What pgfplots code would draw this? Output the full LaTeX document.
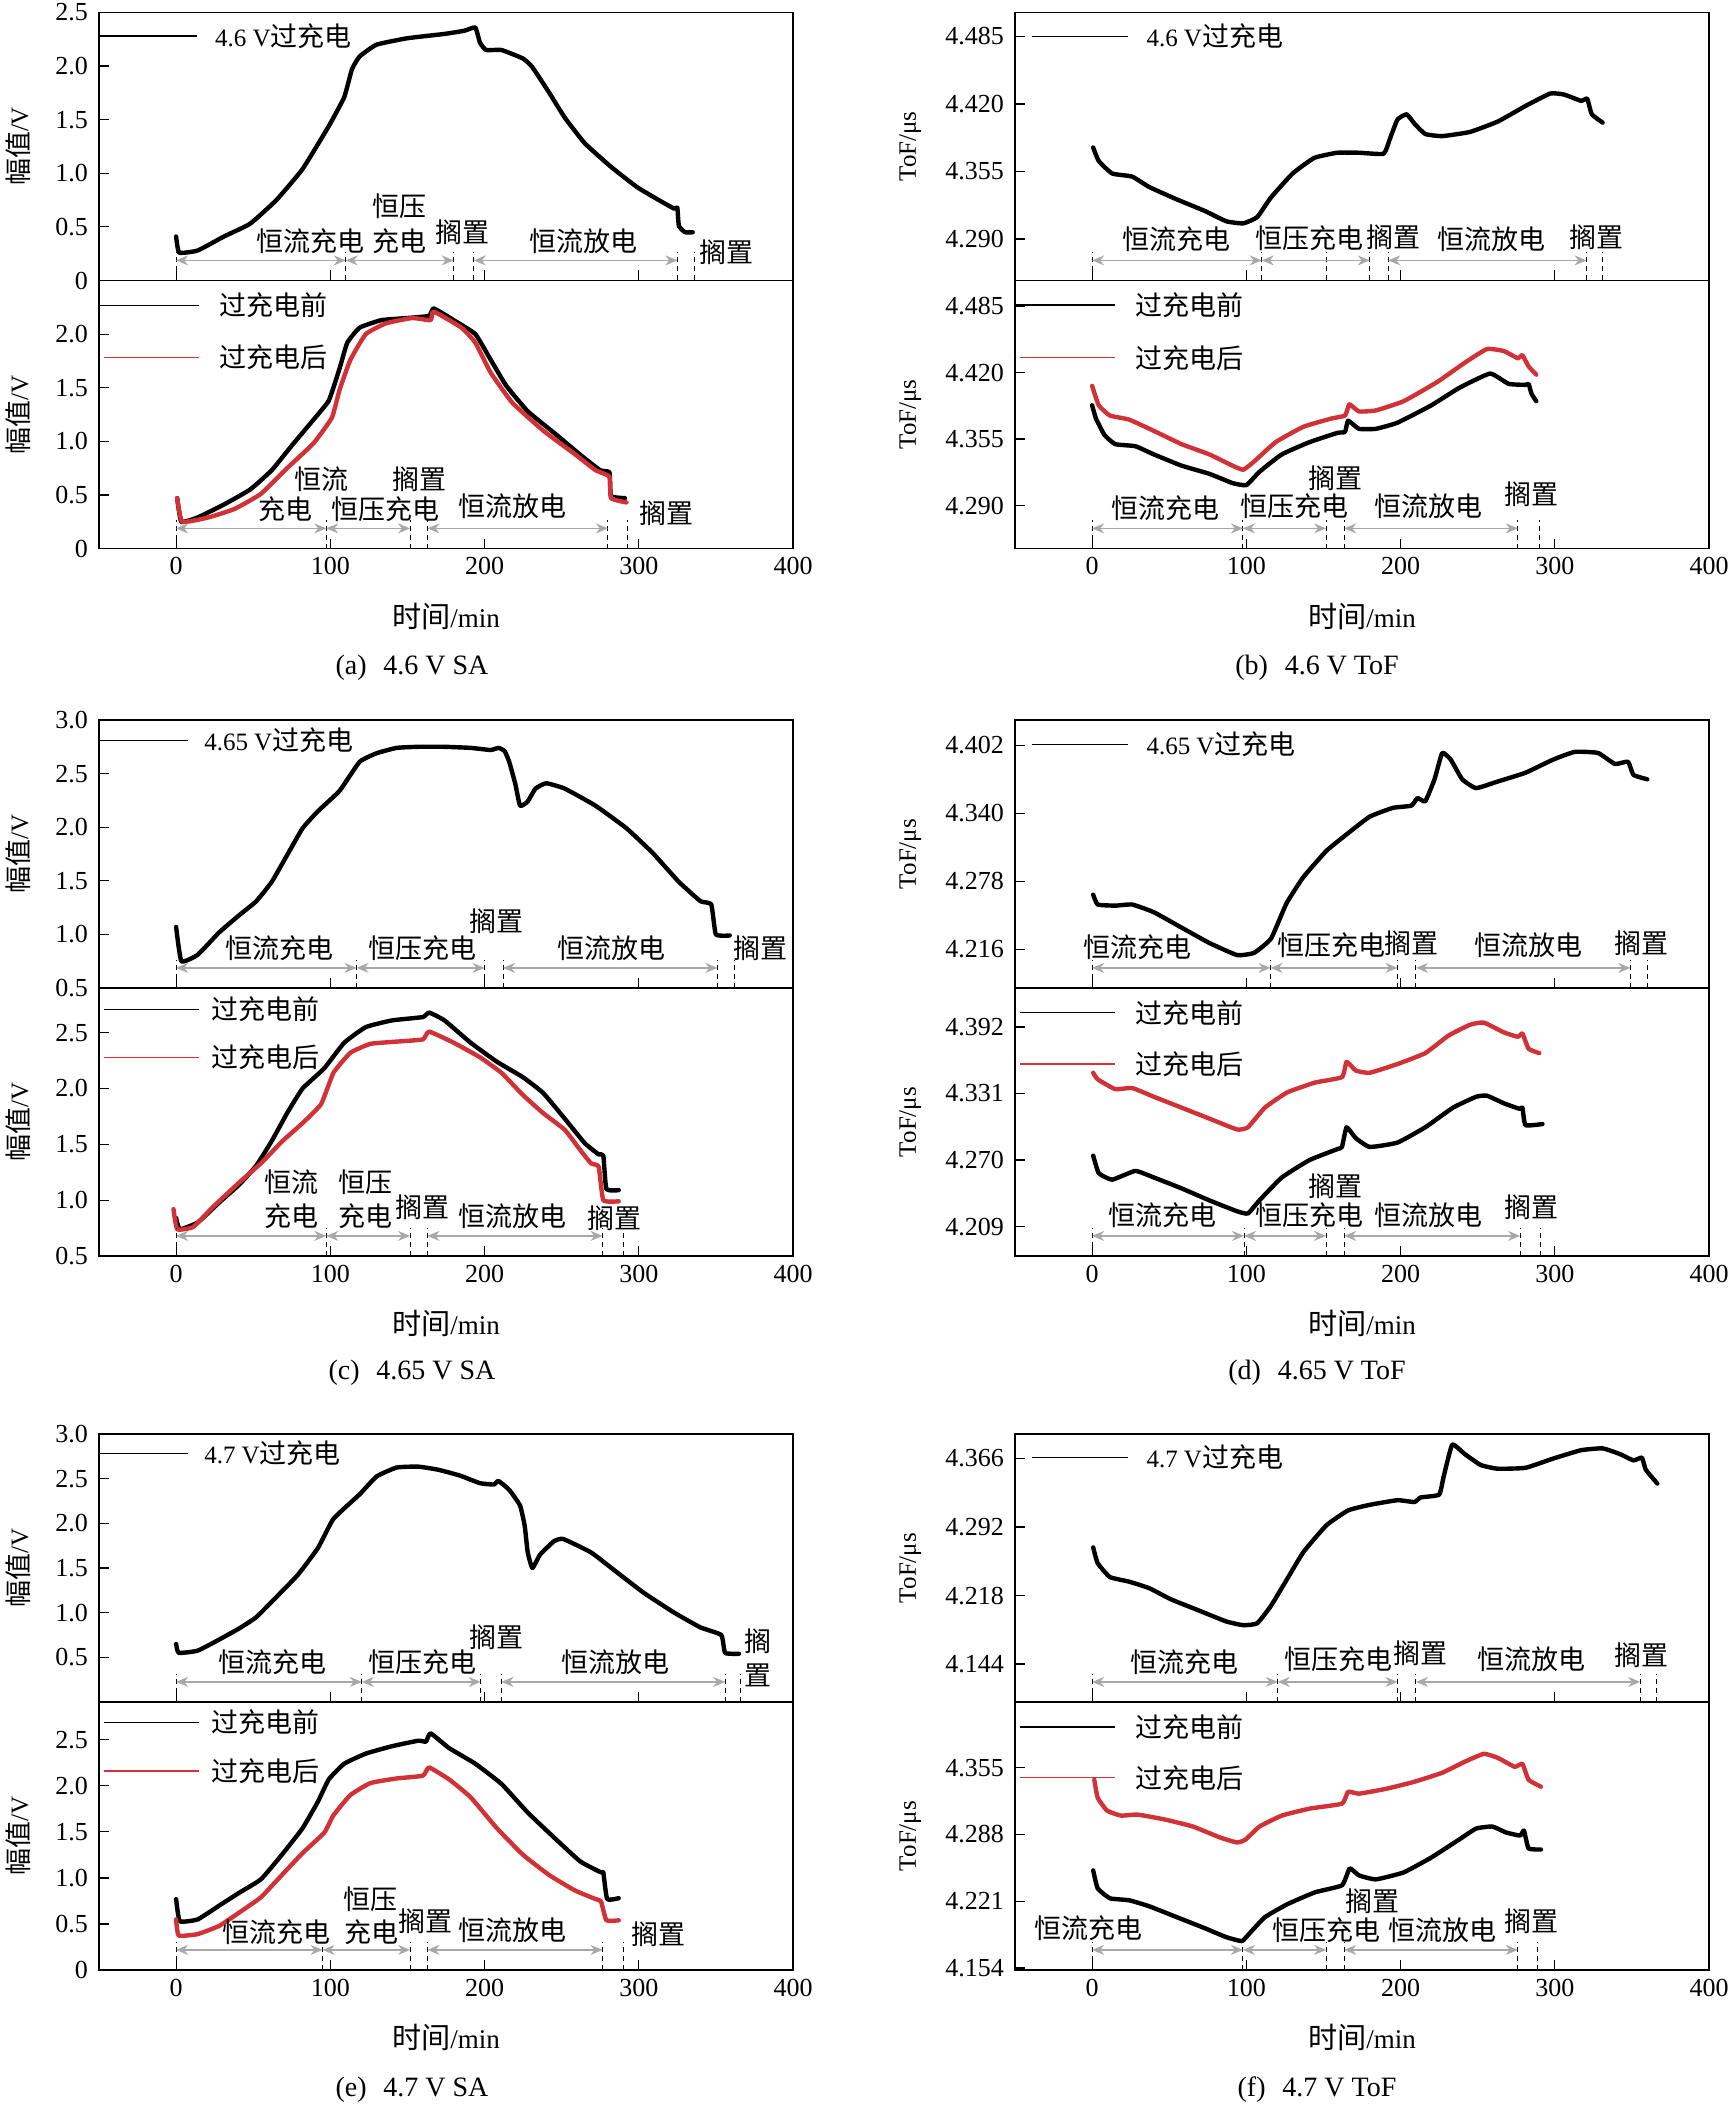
\documentclass[border=0pt]{standalone}
\usepackage{pgfplots}
\pgfplotsset{compat=1.18}
\usetikzlibrary{arrows.meta}
\usepackage{fontspec}
\setmainfont{Liberation Serif}
\newfontfamily\cjk{Noto Sans CJK SC}[Scale=1.08]

\definecolor{myred}{RGB}{208,50,56}
\definecolor{agray}{RGB}{168,168,168}

% annotation helpers
\newcommand{\vd}[1]{\draw[line width=0.5pt, dash pattern=on 2.5pt off 2pt] ({axis cs:#1,0}|-{rel axis cs:0,0}) -- ({axis cs:#1,0}|-{rel axis cs:0,0.105});}
\newcommand{\ar}[2]{\draw[agray, line width=0.7pt, {Stealth[length=6pt,width=5pt]}-{Stealth[length=6pt,width=5pt]}] ({axis cs:#1,0}|-{rel axis cs:0,0.075}) -- ({axis cs:#2,0}|-{rel axis cs:0,0.075});}
\newcommand{\tx}[3]{\node[inner sep=0pt] at (axis cs:#1,#2) {\cjk #3};}
\newcommand{\lgd}[6]{\draw[#4, line width=0.6pt] (axis cs:#1,#3) -- (axis cs:#2,#3);
  \node[anchor=west, inner sep=0pt] at (axis cs:#5,#3) {#6};}
\newcommand{\capt}[1]{\fontsize{14}{16}\selectfont #1}

\pgfplotsset{
  base/.style={scale only axis, width=347pt, height=134pt,
    xmin=-50, xmax=400, xtick={0,100,200,300,400},
    tick align=inside, xtick pos=lower, ytick pos=left,
    major tick length=5pt, clip=false,
    axis line style={line width=0.7pt},
    every tick/.style={black, line width=0.6pt},
    tick label style={font=\fontsize{13}{15}\selectfont},
    /pgf/number format/assume math mode=true,
    yticklabel shift=2pt, xticklabel shift=1pt},
  up/.style={base, xticklabels={}},
  lo/.style={base, xticklabels={0,100,200,300,400},
    xlabel={{\cjk 时间}/min},
    xlabel style={at={(axis description cs:0.5,-0.252)}, anchor=center, font=\fontsize{13.5}{15}\selectfont}},
  sa/.style={ylabel={{\cjk 幅值}/V},
    ylabel style={at={(axis description cs:-0.117,0.5)}, anchor=center}},
  tof/.style={ylabel={ToF/μs},
    ylabel style={at={(axis description cs:-0.151,0.5)}, anchor=center}},
  cv/.style={line width=2.2pt, line join=round, line cap=round, smooth, tension=0.25},
}

\begin{document}
\begin{tikzpicture}[font=\fontsize{12.5}{15}\selectfont]
\path[use as bounding box] (0,0) rectangle (864.5pt,-1053.5pt);

% ================= (a) 4.6 V SA =================
\begin{axis}[up, sa, at={(49.5pt,-140.25pt)}, anchor=south west,
  ymin=0, ymax=2.5, ytick={0,0.5,1,1.5,2,2.5}, yticklabels={0,0.5,1.0,1.5,2.0,2.5}]
\addplot[cv, black] coordinates {(0,0.41)(2,0.26)(14,0.28)(31,0.41)(48,0.53)(65,0.75)(82,1.04)(99,1.44)(109,1.71)(114,1.97)(119,2.09)(130,2.20)(150,2.26)(174,2.30)(187,2.33)(194,2.36)(197,2.22)(201,2.15)(211,2.15)(225,2.07)(231,1.99)(242,1.75)(252,1.52)(265,1.28)(282,1.06)(299,0.87)(313,0.75)(323,0.67)(325,0.68)(326,0.51)(330,0.45)(335,0.45)};
\lgd{-50}{13.6}{2.28}{black}{25}{4.6 V{\cjk 过充电}}
\vd{0}\vd{110}\vd{180}\vd{193}\vd{325}\vd{336}
\ar{0}{110}\ar{110}{180}\ar{193}{325}
\tx{87}{0.37}{恒流充电}\tx{145}{0.69}{恒压}\tx{145}{0.37}{充电}
\tx{186}{0.45}{搁置}\tx{264}{0.37}{恒流放电}\tx{357}{0.26}{搁置}
\end{axis}
\begin{axis}[lo, sa, at={(49.5pt,-274.25pt)}, anchor=south west,
  ymin=0, ymax=2.5, ytick={0,0.5,1,1.5,2}, yticklabels={0,0.5,1.0,1.5,2.0}]
\addplot[cv, black] coordinates {(0.7,0.47)(3.4,0.25)(14,0.29)(31,0.41)(48,0.55)(62,0.73)(75,0.96)(89,1.20)(99,1.38)(106,1.68)(111,1.92)(119,2.06)(133,2.13)(150,2.15)(164,2.17)(167,2.24)(180,2.13)(194,2.00)(204,1.76)(214,1.52)(228,1.28)(245,1.08)(262,0.875)(275,0.73)(281,0.71)(282,0.49)(291,0.47)};
\addplot[cv, myred] coordinates {(0.7,0.47)(4,0.25)(21,0.29)(38,0.37)(55,0.51)(72,0.75)(89,0.98)(101,1.22)(106,1.48)(113,1.76)(123,2.00)(136,2.10)(153,2.15)(165,2.13)(167,2.21)(185,2.06)(194,1.92)(204,1.64)(218,1.36)(238,1.10)(259,0.875)(272,0.73)(281,0.67)(282,0.47)(292,0.43)};
\lgd{-50}{15}{2.27}{black}{28}{\cjk 过充电前}
\lgd{-46.6}{15}{1.78}{myred}{28}{\cjk 过充电后}
\vd{0}\vd{97.4}\vd{151.7}\vd{163}\vd{280}\vd{292.5}
\ar{0}{97.4}\ar{97.4}{151.7}\ar{163}{280}
\tx{94}{0.65}{恒流}\tx{71}{0.37}{充电}\tx{136}{0.37}{恒压充电}
\tx{158}{0.65}{搁置}\tx{218}{0.39}{恒流放电}\tx{318}{0.33}{搁置}
\end{axis}

% ================= (b) 4.6 V ToF =================
\begin{axis}[up, tof, at={(507.5pt,-140.25pt)}, anchor=south west,
  ymin=4.25, ymax=4.508, ytick={4.29,4.355,4.42,4.485}, yticklabels={4.290,4.355,4.420,4.485}]
\addplot[cv, black] coordinates {(0.7,4.378)(4.3,4.365)(13,4.353)(26,4.350)(37,4.340)(55,4.328)(73,4.317)(87,4.307)(98,4.305)(107,4.311)(116,4.330)(130,4.353)(144,4.368)(159,4.373)(173,4.373)(189,4.372)(193,4.386)(198,4.405)(204,4.410)(209,4.401)(216,4.391)(227,4.389)(245,4.393)(263,4.403)(281,4.418)(297,4.430)(306,4.429)(317,4.423)(321,4.425)(324,4.410)(331,4.402)};
\lgd{-38.8}{23}{4.485}{black}{35}{4.6 V{\cjk 过充电}}
\vd{0}\vd{110}\vd{151.7}\vd{180}\vd{192}\vd{320.6}\vd{331}
\ar{0}{110}\ar{110}{180}\ar{192}{320.6}
\tx{55}{4.290}{恒流充电}\tx{141}{4.291}{恒压充电}\tx{195.5}{4.292}{搁置}
\tx{259}{4.290}{恒流放电}\tx{327}{4.292}{搁置}
\end{axis}
\begin{axis}[lo, tof, at={(507.5pt,-274.25pt)}, anchor=south west,
  ymin=4.248, ymax=4.510, ytick={4.29,4.355,4.42,4.485}, yticklabels={4.290,4.355,4.420,4.485}]
\addplot[cv, black] coordinates {(0,4.388)(2.5,4.375)(8,4.359)(15,4.350)(28,4.348)(40,4.340)(58,4.329)(76,4.321)(91,4.312)(100,4.310)(108.5,4.323)(123,4.340)(141,4.352)(159,4.361)(164,4.362)(166,4.373)(173,4.365)(184,4.365)(198,4.371)(220,4.388)(238,4.405)(258,4.419)(270,4.409)(281,4.408)(283,4.409)(285,4.399)(288,4.392)};
\addplot[cv, myred] coordinates {(0,4.407)(4.3,4.388)(11.5,4.378)(24,4.374)(40,4.363)(58,4.350)(76,4.340)(91,4.329)(98,4.325)(105,4.333)(119,4.352)(137,4.367)(155,4.375)(164,4.378)(166.8,4.389)(173,4.382)(184,4.383)(202,4.392)(224,4.411)(242,4.430)(256,4.443)(267,4.441)(276,4.434)(279,4.437)(283,4.426)(288,4.418)};
\lgd{-50}{15}{4.486}{black}{27.7}{\cjk 过充电前}
\lgd{-47}{15}{4.4345}{myred}{27.7}{\cjk 过充电后}
\vd{0}\vd{97.8}\vd{151.7}\vd{163.5}\vd{276}\vd{290}
\ar{0}{97.8}\ar{97.8}{151.7}\ar{163.5}{276}
\tx{47.4}{4.287}{恒流充电}\tx{131}{4.289}{恒压充电}\tx{158}{4.317}{搁置}
\tx{218}{4.289}{恒流放电}\tx{285}{4.301}{搁置}
\end{axis}

% ================= (c) 4.65 V SA =================
\begin{axis}[up, sa, at={(49.5pt,-494pt)}, anchor=south west,
  ymin=0.5, ymax=3.0, ytick={0.5,1,1.5,2,2.5,3}, yticklabels={0.5,1.0,1.5,2.0,2.5,3.0}]
\addplot[cv, black] coordinates {(0,1.07)(3.4,0.75)(14,0.81)(28,1.02)(41,1.18)(52,1.31)(62,1.49)(72,1.74)(82,1.99)(92,2.15)(106,2.34)(119,2.61)(130,2.69)(143,2.74)(157,2.75)(174,2.75)(191,2.74)(204,2.72)(209,2.74)(213,2.71)(216,2.61)(220,2.40)(223,2.20)(228,2.24)(233,2.36)(240,2.41)(252,2.36)(272,2.20)(292,1.99)(309,1.76)(326,1.49)(340,1.31)(347,1.28)(350,1.00)(359,0.99)};
\lgd{-50}{8}{2.81}{black}{18}{4.65 V{\cjk 过充电}}
\vd{0}\vd{117}\vd{200}\vd{212}\vd{351}\vd{362}
\ar{0}{117}\ar{117}{200}\ar{212}{351}
\tx{67}{0.875}{恒流充电}\tx{159.5}{0.875}{恒压充电}\tx{207.6}{1.12}{搁置}
\tx{282}{0.875}{恒流放电}\tx{379}{0.875}{搁置}
\end{axis}
\begin{axis}[lo, sa, at={(49.5pt,-628pt)}, anchor=south west,
  ymin=0.5, ymax=2.9, ytick={0.5,1,1.5,2,2.5}, yticklabels={0.5,1.0,1.5,2.0,2.5}]
\addplot[cv, black] coordinates {(0,0.84)(2.4,0.74)(14,0.80)(28,0.98)(41,1.14)(52,1.31)(62,1.53)(72,1.78)(82,2.00)(96,2.18)(109,2.41)(123,2.55)(140,2.61)(160,2.64)(164,2.68)(174,2.61)(191,2.41)(208,2.24)(225,2.10)(238,1.96)(252,1.73)(265,1.51)(274,1.41)(277,1.40)(279,1.10)(287,1.09)};
\addplot[cv, myred] coordinates {(-1.7,0.92)(0.7,0.74)(11,0.76)(24,0.94)(41,1.16)(55,1.33)(69,1.53)(82,1.69)(94,1.86)(102,2.14)(113,2.32)(126,2.40)(143,2.42)(160,2.44)(164,2.51)(180,2.41)(197,2.28)(211,2.14)(225,1.94)(238,1.78)(252,1.63)(262,1.45)(269,1.33)(274,1.30)(277,1.00)(287,0.99)};
\lgd{-47}{15}{2.71}{black}{23}{\cjk 过充电前}
\lgd{-47}{15}{2.28}{myred}{23}{\cjk 过充电后}
\vd{0}\vd{97.4}\vd{151.7}\vd{163}\vd{276.5}\vd{290}
\ar{0}{97.4}\ar{97.4}{151.7}\ar{163}{276.5}
\tx{75}{1.16}{恒流}\tx{75}{0.86}{充电}\tx{123}{1.16}{恒压}\tx{123}{0.86}{充电}
\tx{159.5}{0.94}{搁置}\tx{218}{0.86}{恒流放电}\tx{284}{0.84}{搁置}
\end{axis}

% ================= (d) 4.65 V ToF =================
\begin{axis}[up, tof, at={(507.5pt,-494pt)}, anchor=south west,
  ymin=4.181, ymax=4.425, ytick={4.216,4.278,4.34,4.402}, yticklabels={4.216,4.278,4.340,4.402}]
\addplot[cv, black] coordinates {(0.7,4.266)(3.6,4.257)(15,4.256)(26,4.257)(40,4.250)(58,4.236)(76,4.222)(94,4.211)(105,4.213)(116,4.226)(126,4.258)(137,4.282)(152,4.306)(166,4.322)(180,4.337)(195,4.345)(207,4.347)(211,4.354)(216,4.351)(222,4.371)(227,4.395)(232.5,4.389)(240,4.371)(249,4.363)(263,4.369)(281,4.377)(299,4.389)(313,4.396)(328,4.395)(339,4.385)(347.5,4.387)(351,4.375)(360,4.371)};
\lgd{-39}{23}{4.403}{black}{35}{4.65 V{\cjk 过充电}}
\vd{0}\vd{115.7}\vd{198}\vd{210}\vd{349}\vd{360}
\ar{0}{115.7}\ar{115.7}{198}\ar{210}{349}
\tx{29.5}{4.218}{恒流充电}\tx{155}{4.220}{恒压充电}\tx{207}{4.222}{搁置}
\tx{283}{4.220}{恒流放电}\tx{356.5}{4.222}{搁置}
\end{axis}
\begin{axis}[lo, tof, at={(507.5pt,-628pt)}, anchor=south west,
  ymin=4.182, ymax=4.4277, ytick={4.209,4.27,4.331,4.392}, yticklabels={4.209,4.270,4.331,4.392}]
\addplot[cv, black] coordinates {(0.7,4.274)(4.3,4.258)(13,4.252)(28,4.260)(40,4.254)(58,4.244)(76,4.233)(94,4.223)(101,4.221)(108.5,4.233)(123,4.254)(141,4.270)(159,4.280)(162,4.282)(165,4.300)(171,4.290)(180,4.282)(198,4.286)(216,4.300)(234,4.318)(249,4.328)(256,4.329)(267,4.322)(277,4.317)(279,4.318)(281,4.302)(292,4.303)};
\addplot[cv, myred] coordinates {(0.7,4.350)(3.6,4.344)(15,4.335)(26,4.336)(40,4.328)(58,4.318)(76,4.308)(94,4.298)(101,4.300)(112,4.318)(126.5,4.332)(144.5,4.341)(162,4.346)(165,4.360)(171,4.352)(180,4.350)(198,4.358)(216,4.368)(231,4.384)(245,4.394)(254,4.396)(267,4.387)(276,4.383)(279,4.386)(283,4.372)(290,4.368)};
\lgd{-46.7}{15}{4.405}{black}{27.7}{\cjk 过充电前}
\lgd{-46.7}{15}{4.358}{myred}{27.7}{\cjk 过充电后}
\vd{0}\vd{98.5}\vd{151.7}\vd{163.5}\vd{277.5}\vd{291}
\ar{0}{98.5}\ar{98.5}{151.7}\ar{163.5}{277.5}
\tx{45.6}{4.219}{恒流充电}\tx{141}{4.219}{恒压充电}\tx{158}{4.246}{搁置}
\tx{218}{4.219}{恒流放电}\tx{285}{4.227}{搁置}
\end{axis}

% ================= (e) 4.7 V SA =================
\begin{axis}[up, sa, at={(49.5pt,-851pt)}, anchor=south west,
  ymin=0, ymax=3.0, ytick={0.5,1,1.5,2,2.5,3}, yticklabels={0.5,1.0,1.5,2.0,2.5,3.0}]
\addplot[cv, black] coordinates {(0,0.65)(1.7,0.55)(14,0.575)(28,0.70)(41,0.825)(52,0.95)(65,1.175)(79,1.425)(92,1.725)(102,2.05)(119,2.325)(130,2.525)(143,2.625)(157,2.635)(170,2.60)(184,2.535)(197,2.45)(206,2.435)(209,2.475)(216,2.375)(223,2.20)(226,1.975)(228,1.675)(231,1.50)(236,1.65)(245,1.80)(251,1.825)(269,1.675)(286,1.45)(303,1.225)(323,1.00)(340,0.835)(353.5,0.75)(356,0.55)(365,0.54)};
\lgd{-50}{8}{2.785}{black}{18}{4.7 V{\cjk 过充电}}
\vd{0}\vd{120.4}\vd{197.5}\vd{211}\vd{356}\vd{366}
\ar{0}{120.4}\ar{120.4}{197.5}\ar{211}{356}
\tx{62.4}{0.45}{恒流充电}\tx{159.5}{0.45}{恒压充电}\tx{207.6}{0.725}{搁置}
\tx{285}{0.45}{恒流放电}\tx{377}{0.675}{搁}\tx{377}{0.30}{置}
\end{axis}
\begin{axis}[lo, sa, at={(49.5pt,-985pt)}, anchor=south west,
  ymin=0, ymax=2.91, ytick={0,0.5,1,1.5,2,2.5}, yticklabels={0,0.5,1.0,1.5,2.0,2.5}]
\addplot[cv, black] coordinates {(0,0.77)(2.4,0.53)(14,0.55)(28,0.70)(41,0.84)(55,0.985)(68.5,1.25)(82,1.54)(92,1.83)(99,2.07)(109,2.24)(123,2.35)(140,2.43)(157,2.49)(162,2.48)(165,2.57)(177,2.41)(194,2.24)(211,2.02)(228,1.71)(245,1.44)(262,1.18)(275.5,1.06)(277,1.06)(279.5,0.77)(287,0.78)};
\addplot[cv, myred] coordinates {(0,0.55)(1.7,0.375)(14,0.39)(28,0.48)(41,0.625)(55,0.79)(68.5,1.03)(82,1.27)(96,1.49)(102,1.68)(113,1.90)(126,2.03)(143,2.08)(160,2.11)(164,2.20)(177,2.07)(191,1.875)(208,1.54)(225,1.25)(242,1.03)(258.5,0.865)(272,0.77)(275.5,0.745)(279,0.54)(287,0.54)};
\lgd{-47}{15}{2.69}{black}{23}{\cjk 过充电前}
\lgd{-47}{15}{2.16}{myred}{23}{\cjk 过充电后}
\vd{0}\vd{95}\vd{151.7}\vd{163}\vd{276.5}\vd{290}
\ar{0}{95}\ar{95}{151.7}\ar{163}{276.5}
\tx{65}{0.41}{恒流充电}\tx{127}{0.41}{充电}\tx{126}{0.77}{恒压}
\tx{162}{0.53}{搁置}\tx{218}{0.43}{恒流放电}\tx{313}{0.39}{搁置}
\end{axis}

% ================= (f) 4.7 V ToF =================
\begin{axis}[up, tof, at={(507.5pt,-851pt)}, anchor=south west,
  ymin=4.103, ymax=4.3925, ytick={4.144,4.218,4.292,4.366}, yticklabels={4.144,4.218,4.292,4.366}]
\addplot[cv, black] coordinates {(0.7,4.270)(3.6,4.253)(11.5,4.238)(24,4.233)(37,4.226)(51,4.214)(69,4.202)(87,4.190)(98,4.186)(107,4.188)(116,4.207)(126.5,4.236)(137,4.265)(152,4.294)(166,4.310)(180,4.316)(198,4.321)(209,4.319)(213,4.324)(225,4.327)(228,4.347)(233.5,4.381)(241.5,4.371)(252,4.359)(263,4.355)(281,4.356)(299,4.366)(317,4.375)(331,4.377)(342,4.371)(351,4.364)(356.5,4.367)(359,4.354)(366.5,4.339)};
\lgd{-39}{23}{4.367}{black}{35}{4.7 V{\cjk 过充电}}
\vd{0}\vd{120.4}\vd{198}\vd{210}\vd{355.4}\vd{366}
\ar{0}{120.4}\ar{120.4}{198}\ar{210}{355.4}
\tx{60}{4.146}{恒流充电}\tx{159.5}{4.149}{恒压充电}\tx{212.8}{4.156}{搁置}
\tx{284.6}{4.149}{恒流放电}\tx{356}{4.154}{搁置}
\end{axis}
\begin{axis}[lo, tof, at={(507.5pt,-985pt)}, anchor=south west,
  ymin=4.152, ymax=4.421, ytick={4.154,4.221,4.288,4.355}, yticklabels={4.154,4.221,4.288,4.355}]
\addplot[cv, black] coordinates {(0.7,4.252)(3.6,4.234)(11.5,4.224)(24,4.222)(37,4.216)(55,4.205)(73,4.194)(87,4.185)(97,4.181)(101,4.187)(112,4.205)(126.5,4.218)(144.5,4.230)(162,4.237)(167,4.254)(173,4.247)(184,4.243)(202,4.250)(220,4.265)(238,4.283)(249,4.294)(259.5,4.296)(268.5,4.290)(277.5,4.287)(280,4.292)(283,4.274)(291,4.273)};
\addplot[cv, myred] coordinates {(1.4,4.343)(3.6,4.325)(9.7,4.312)(18.7,4.307)(29.5,4.308)(47.4,4.303)(65.4,4.296)(83,4.285)(94,4.280)(99.5,4.283)(108.5,4.296)(123,4.307)(141,4.314)(162,4.319)(166,4.331)(173,4.329)(191,4.334)(209,4.341)(227,4.350)(241.5,4.361)(254,4.369)(263,4.365)(274,4.356)(279,4.359)(283,4.343)(291,4.336)};
\lgd{-46.7}{15}{4.396}{black}{27.7}{\cjk 过充电前}
\lgd{-46.7}{15}{4.345}{myred}{27.7}{\cjk 过充电后}
\vd{0}\vd{97.8}\vd{151.7}\vd{163.5}\vd{276}\vd{289}
\ar{0}{97.8}\ar{97.8}{151.7}\ar{163.5}{276}
\tx{-2.2}{4.194}{恒流充电}\tx{151.7}{4.192}{恒压充电}\tx{182}{4.221}{搁置}
\tx{227}{4.192}{恒流放电}\tx{285}{4.201}{搁置}
\end{axis}

% captions
\node at (206pt,-334pt) {\capt{(a)\hspace{0.6em}4.6 V SA}};
\node at (658.5pt,-334pt) {\capt{(b)\hspace{0.6em}4.6 V ToF}};
\node at (206pt,-686.5pt) {\capt{(c)\hspace{0.6em}4.65 V SA}};
\node at (658.5pt,-686.5pt) {\capt{(d)\hspace{0.6em}4.65 V ToF}};
\node at (206pt,-1045pt) {\capt{(e)\hspace{0.6em}4.7 V SA}};
\node at (658.5pt,-1045pt) {\capt{(f)\hspace{0.6em}4.7 V ToF}};
\end{tikzpicture}
\end{document}
